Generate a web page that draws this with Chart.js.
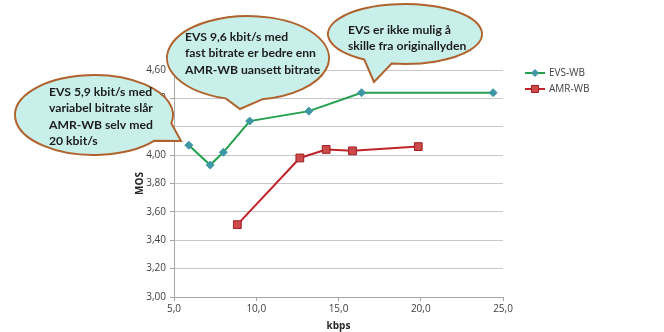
<!DOCTYPE html>
<html>
<head>
<meta charset="utf-8">
<script src="https://cdn.jsdelivr.net/npm/chart.js@4"></script>
<style>
  html, body { margin: 0; padding: 0; background: #fff; }
  #wrap { width: 664px; height: 332px; position: relative; }
</style>
</head>
<body>
<div id="wrap"><canvas id="mosChart"></canvas></div>
<script>
// MOS vs. bitrate
const evsKbps = [5.9, 7.2, 8.0, 9.6, 13.2, 16.4, 24.4];
const evsMos = [4.07, 3.93, 4.02, 4.24, 4.31, 4.44, 4.44];
const amrKbps = [8.85, 12.65, 14.25, 15.85, 19.85];
const amrMos = [3.51, 3.98, 4.04, 4.03, 4.06];

const xTicks = [5, 10, 15, 20, 25];
const yTicks = [3.0, 3.2, 3.4, 3.6, 3.8, 4.0, 4.2, 4.4, 4.6];

const seriesNames = ['EVS-WB', 'AMR-WB'];

const callouts = [
    {
        lines: ['EVS 5,9 kbit/s med', 'variabel bitrate slår', 'AMR-WB selv med', '20 kbit/s'],
        cx: 94, cy: 115, rx: 79, ry: 40, tail: [12, 40], tip: [181, 141], tx: 49, ty: 92
    },
    {
        lines: ['EVS 9,6 kbit/s med', 'fast bitrate er bedre enn', 'AMR-WB uansett bitrate'],
        cx: 248, cy: 58, rx: 81, ry: 42, tail: [80, 106], tip: [240, 109], tx: 185, ty: 37
    },
    {
        lines: ['EVS er ikke mulig å', 'skille fra originallyden'],
        cx: 405, cy: 34, rx: 77, ry: 30, tail: [100, 122], tip: [374, 82], tx: 348, ty: 30
    }
];

const pair = (xs, ys) => xs.map((x, i) => ({ x: x, y: ys[i] }));
const comma = (v, d) => v.toFixed(d).replace('.', ',');

const calloutPlugin = {
    id: 'calloutsAndLegend',
    afterDraw(chart) {
        const ctx = chart.ctx;
        ctx.save();

        // speech bubbles
        callouts.forEach(c => {
            const a1 = c.tail[0] * Math.PI / 180;
            const a2 = c.tail[1] * Math.PI / 180;
            ctx.beginPath();
            ctx.ellipse(c.cx, c.cy, c.rx, c.ry, 0, a2, a1 + Math.PI * 2);
            ctx.lineTo(c.tip[0], c.tip[1]);
            ctx.closePath();
            ctx.fillStyle = '#c8efe9';
            ctx.fill();
            ctx.lineWidth = 2;
            ctx.strokeStyle = '#b0622c';
            ctx.stroke();

            ctx.fillStyle = '#1c1c1c';
            ctx.font = 'bold 12.2px Lato';
            ctx.textBaseline = 'middle';
            ctx.textAlign = 'left';
            c.lines.forEach((t, i) => ctx.fillText(t, c.tx, c.ty + i * 16.5));
        });

        // legend: short line with the series marker on it
        chart.data.datasets.forEach((ds, i) => {
            const y = 73 + i * 16;
            ctx.beginPath();
            ctx.moveTo(525, y);
            ctx.lineTo(545, y);
            ctx.strokeStyle = ds.borderColor;
            ctx.lineWidth = 2;
            ctx.stroke();
            ctx.fillStyle = ds.pointBackgroundColor;
            ctx.strokeStyle = ds.pointBorderColor;
            ctx.lineWidth = 1;
            Chart.helpers.drawPoint(ctx, {
                pointStyle: ds.pointStyle,
                radius: ds.pointRadius - 0.5,
                borderWidth: 1
            }, 535, y);
            ctx.fillStyle = '#404040';
            ctx.font = '10px "Open Sans"';
            ctx.textBaseline = 'middle';
            ctx.fillText(ds.label, 549, y);
        });

        ctx.restore();
    }
};

new Chart(document.getElementById('mosChart').getContext('2d'), {
    type: 'scatter',
    data: {
        datasets: [{
            label: seriesNames[0],
            data: pair(evsKbps, evsMos),
            showLine: true,
            borderColor: '#22a04e',
            borderWidth: 2,
            pointStyle: 'rectRot',
            pointRadius: 4,
            pointBackgroundColor: '#3f97a6',
            pointBorderColor: '#3f97a6',
            pointBorderWidth: 1
        }, {
            label: seriesNames[1],
            data: pair(amrKbps, amrMos),
            showLine: true,
            borderColor: '#c0242b',
            borderWidth: 2,
            pointStyle: 'rect',
            pointRadius: 5.5,
            pointBackgroundColor: '#cc4a4a',
            pointBorderColor: '#a01e22',
            pointBorderWidth: 1
        }]
    },
    options: {
        responsive: true,
        maintainAspectRatio: false,
        animation: false,
        layout: {
            padding: { left: 134, right: 161, top: 70, bottom: 0 }
        },
        plugins: {
            legend: { display: false },
            tooltip: { enabled: false }
        },
        scales: {
            x: {
                type: 'linear',
                min: 5,
                max: 25,
                afterBuildTicks: s => { s.ticks = xTicks.map(v => ({ value: v })); },
                afterFit: s => { s.height = 35; },
                grid: {
                    drawOnChartArea: false,
                    drawTicks: true,
                    tickLength: 4,
                    color: '#a6a6a6'
                },
                border: { color: '#a6a6a6' },
                ticks: {
                    color: '#404040',
                    font: { family: 'Open Sans', size: 10 },
                    padding: 2,
                    callback: v => comma(v, 1)
                },
                title: {
                    display: true,
                    text: 'kbps',
                    color: '#262626',
                    font: { family: 'Open Sans', size: 10, weight: 'bold' },
                    padding: { top: 0, bottom: 0 }
                }
            },
            y: {
                min: 3.0,
                max: 4.6,
                afterBuildTicks: s => { s.ticks = yTicks.map(v => ({ value: v })); },
                afterFit: s => { s.width = 40; },
                grid: {
                    color: '#c8c8c8',
                    drawTicks: true,
                    tickLength: 4,
                    tickColor: '#a6a6a6'
                },
                border: { color: '#a6a6a6' },
                ticks: {
                    color: '#404040',
                    font: { family: 'Open Sans', size: 10 },
                    padding: 4,
                    callback: v => comma(v, 2)
                },
                title: {
                    display: true,
                    text: 'MOS',
                    color: '#262626',
                    font: { family: 'Open Sans', size: 10, weight: 'bold' },
                    padding: { top: 0, bottom: 0 }
                }
            }
        }
    },
    plugins: [calloutPlugin]
});
</script>
</body>
</html>
